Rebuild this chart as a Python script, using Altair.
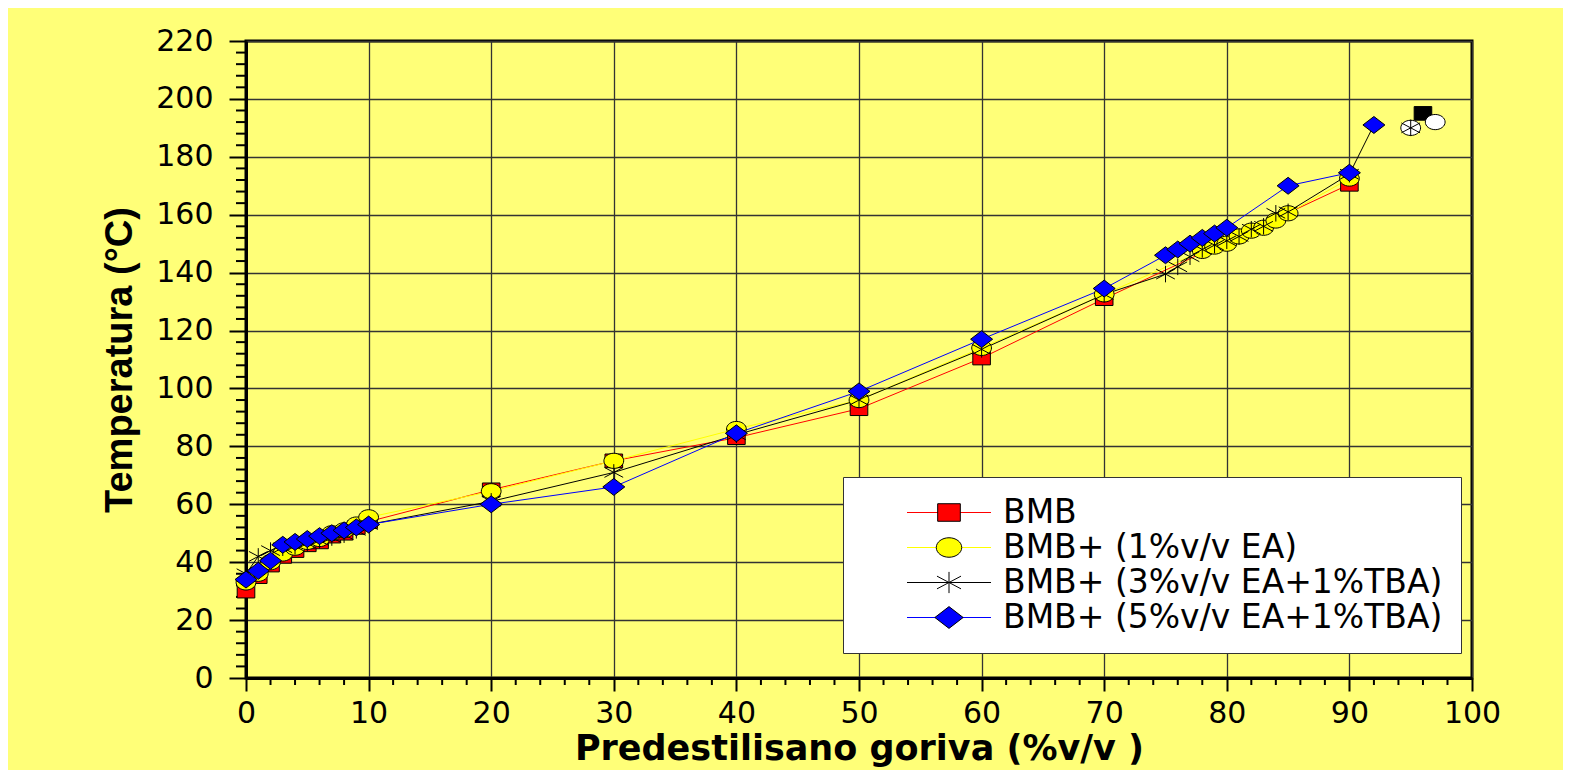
import altair as alt
import pandas as pd

SERIES = ["BMB", "BMB+ (1%v/v EA)", "BMB+ (3%v/v EA+1%TBA)", "BMB+ (5%v/v EA+1%TBA)"]
MARKER_KEYS = ["m1", "m2", "m3", "m4"]

bmb_x = [0, 1, 2, 3, 4, 5, 6, 7, 8, 9, 10, 20, 30, 40, 50, 60, 70, 90]
bmb_y = [30, 35, 39, 42, 44, 46, 47, 49, 50, 52, 54, 65, 75, 83, 93, 110.5, 131, 170.5]

ea1_x = [0, 1, 2, 3, 4, 5, 6, 7, 8, 9, 10, 20, 30, 40, 50, 60, 70, 78, 79, 80, 81, 82, 83, 84, 85, 90]
ea1_y = [33, 36, 40, 43, 45, 47, 48, 50, 51, 53, 55.5, 64.5, 75, 86, 96, 114, 132.5,
         147.5, 149, 150, 152.5, 154.5, 155.5, 158, 160.5, 172.5]

ea3_x = [0, 1, 2, 3, 4, 5, 6, 7, 8, 9, 10, 20, 30, 40, 50, 60, 70, 75, 76, 77, 78, 79, 80,
         81, 82, 83, 84, 85, 90, 92]
ea3_y = [36, 42, 44, 45, 45.5, 46.5, 47.5, 48.5, 49.5, 51, 53, 61, 71, 84, 96, 113.5, 132.5,
         139.5, 142, 145.5, 148, 149.5, 151, 152.5, 155, 156, 160.5, 161, 174, 191]

ea5_x = [0, 1, 2, 3, 4, 5, 6, 7, 8, 9, 10, 20, 30, 40, 50, 60, 70, 75, 76, 77, 78, 79, 80, 85, 90, 92]
ea5_y = [34, 37, 40.5, 46, 47, 48, 49, 50, 51, 52, 53, 60, 66, 84.5, 99, 117, 134.5,
         146, 148, 150, 152, 153.5, 155.5, 170, 174.5, 191]

# end points (drawn with special markers)
end_bmb = (96, 195)
end_ea1 = (97, 192)
end_ea3 = (95, 190)

LINE_COLORS = ["#ff0000", "#ffff00", "#000000", "#0000ff"]
FILL_COLORS = ["#ff0000", "#ffff00", "transparent", "#0000ff"]
STROKE_COLORS = ["#000000", "#000000", "#000000", "#000000"]

SQ = "M -0.8 -0.62 L 0.8 -0.62 L 0.8 0.62 L -0.8 0.62 Z"
ELL = "M -0.9 0 A 0.9 0.69 0 1 1 0.9 0 A 0.9 0.69 0 1 1 -0.9 0 Z"
AST = "M 0 -0.75 L 0 0.75 M -0.85 -0.45 L 0.85 0.45 M -0.85 0.45 L 0.85 -0.45"
DIA = "M -1 0 L 0 -0.77 L 1 0 L 0 0.77 Z"
SHAPES = [SQ, ELL, AST, DIA]

rows = []
for k, s, xs, ys in [(0, SERIES[0], bmb_x, bmb_y), (1, SERIES[1], ea1_x, ea1_y),
                     (2, SERIES[2], ea3_x, ea3_y), (3, SERIES[3], ea5_x, ea5_y)]:
    for xv, yv in zip(xs, ys):
        ln = True
        pt = True
        if k == 2 and xv == 92:
            pt = False
        if k == 3 and xv == 92:
            ln = False
        rows.append({"series": s, "mk": MARKER_KEYS[k], "x": xv, "y": yv, "ln": ln, "pt": pt})
df = pd.DataFrame(rows)

ends = pd.DataFrame([
    {"kind": "sq", "x": end_bmb[0], "y": end_bmb[1]},
    {"kind": "ell", "x": end_ea1[0], "y": end_ea1[1]},
    {"kind": "ast", "x": end_ea3[0], "y": end_ea3[1]},
])

y_minor = pd.DataFrame({"v": [v for v in range(4, 220, 4) if v % 20]})
x_minor = pd.DataFrame({"v": [v for v in range(2, 100, 2) if v % 10]})

XT = "Predestilisano goriva (%v/v )"
YT = "Temperatura (°C)"

xscale = alt.Scale(domain=[0, 100], nice=False, zero=False)
yscale = alt.Scale(domain=[0, 220], nice=False, zero=False)

xaxis = alt.Axis(values=list(range(0, 101, 10)), tickSize=13, labelPadding=7, title=XT,
                 titleFont="DejaVu Sans", titleFontSize=35, titleFontWeight="bold",
                 titlePadding=3, labelFlush=False, labelOverlap=False, format="d")
yaxis = alt.Axis(values=list(range(0, 221, 20)), tickSize=17, labelPadding=16, title=YT,
                 titleFont="Liberation Sans", titleFontSize=38, titleFontWeight="bold",
                 titlePadding=16, labelOverlap=False, format="d")

LX, LY = 597, 436

line_legend = alt.Legend(title=None, orient="none", legendX=LX, legendY=LY,
                         symbolType="M -1 0 L 1 0", symbolSize=7056, symbolStrokeWidth=1,
                         symbolFillColor="transparent",
                         labelFont="DejaVu Sans", labelFontSize=33, labelColor="black",
                         labelLimit=800, padding=18, clipHeight=35, rowPadding=0,
                         symbolOffset=45.5, labelOffset=11.5,
                         fillColor="white", strokeColor="#333333")

mark_legend = alt.Legend(title=None, orient="none", legendX=LX, legendY=LY,
                         symbolSize=800, symbolStrokeWidth=1, symbolStrokeColor="black",
                         labelFontSize=33, labelOpacity=0, labelExpr="''", labelLimit=800,
                         padding=18, clipHeight=35, rowPadding=0, symbolOffset=71.5)

ymin_layer = alt.Chart(y_minor).mark_rule(color="black", strokeWidth=2).encode(
    y=alt.Y("v:Q", scale=yscale, title=YT),
    x=alt.value(-10), x2=alt.value(0))
xmin_layer = alt.Chart(x_minor).mark_rule(color="black", strokeWidth=2).encode(
    x=alt.X("v:Q", scale=xscale, title=XT),
    y=alt.value(637), y2=alt.value(644))

base = alt.Chart(df)
lines = base.transform_filter("datum.ln").mark_line(strokeWidth=1).encode(
    x=alt.X("x:Q", scale=xscale, axis=xaxis),
    y=alt.Y("y:Q", scale=yscale, axis=yaxis),
    color=alt.Color("series:N", scale=alt.Scale(domain=SERIES, range=LINE_COLORS),
                    legend=line_legend),
    order="x:Q")

points = base.transform_filter("datum.pt").mark_point(
    filled=True, strokeWidth=1, size=484, opacity=1).encode(
    x=alt.X("x:Q", scale=xscale, title=XT),
    y=alt.Y("y:Q", scale=yscale, title=YT),
    shape=alt.Shape("mk:N", scale=alt.Scale(domain=MARKER_KEYS, range=SHAPES), legend=mark_legend),
    fill=alt.Fill("mk:N", scale=alt.Scale(domain=MARKER_KEYS, range=FILL_COLORS), legend=mark_legend),
    stroke=alt.Stroke("mk:N", scale=alt.Scale(domain=MARKER_KEYS, range=STROKE_COLORS), legend=mark_legend))

eb = alt.Chart(ends)
end_sq = eb.transform_filter("datum.kind == 'sq'").mark_point(
    shape=SQ, filled=True, fill="black", stroke="black", strokeWidth=1, size=484, opacity=1
).encode(x=alt.X("x:Q", scale=xscale, title=XT), y=alt.Y("y:Q", scale=yscale, title=YT))
end_ell = eb.transform_filter("datum.kind != 'sq'").mark_point(
    shape=ELL, filled=True, fill="white", stroke="black", strokeWidth=1, size=484, opacity=1
).encode(x=alt.X("x:Q", scale=xscale, title=XT), y=alt.Y("y:Q", scale=yscale, title=YT))
end_ast = eb.transform_filter("datum.kind == 'ast'").mark_point(
    shape=AST, filled=False, stroke="black", strokeWidth=1, size=484, opacity=1
).encode(x=alt.X("x:Q", scale=xscale, title=XT), y=alt.Y("y:Q", scale=yscale, title=YT))

chart = alt.layer(ymin_layer, xmin_layer, lines, points, end_sq, end_ell, end_ast).properties(
    width=1226, height=637,
    padding={"left": 238, "top": 33, "right": 91, "bottom": 92},
    autosize=alt.AutoSizeParams(type="none"),
).configure(background="#ffff78").configure_view(
    stroke="black", strokeWidth=3
).configure_axis(
    domainColor="black", domainWidth=3, tickColor="black", tickWidth=2,
    gridColor="#333333", gridWidth=1.3, gridOpacity=1,
    labelFont="DejaVu Sans", labelFontSize=30, labelColor="black", titleColor="black"
)

chart.save("out.html", embed_options={"renderer": "svg", "actions": False})
